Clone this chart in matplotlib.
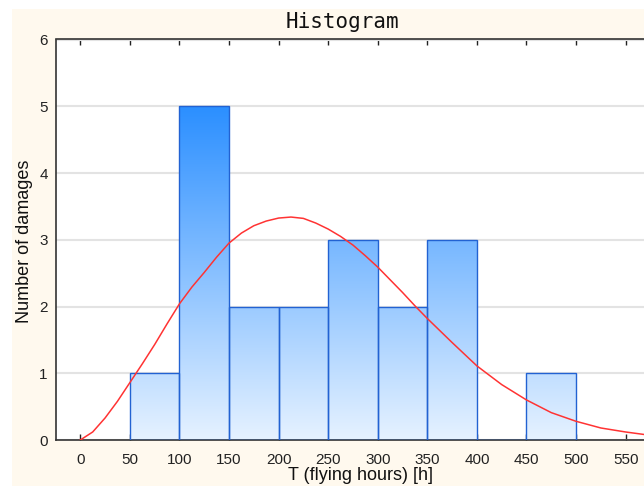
import numpy as np
import matplotlib
matplotlib.use('Agg')
import matplotlib.pyplot as plt
from matplotlib.colors import LinearSegmentedColormap
from matplotlib.patches import Rectangle

# histogram of damages per flying-hour bin
bin_left = [50, 100, 150, 200, 250, 300, 350, 400, 450]
counts = [1, 5, 2, 2, 3, 2, 3, 0, 1]
bin_width = 50

# fitted distribution curve (expected counts per bin)
fit_t = [0, 12.5, 25, 37.5, 50, 62.5, 75, 87.5, 100, 112.5, 125, 137.5, 150,
         162.5, 175, 187.5, 200, 212.5, 225, 237.5, 250, 262.5, 275, 287.5,
         300, 312.5, 325, 337.5, 350, 375, 400, 425, 450, 475, 500, 525, 550, 575]
fit_n = [0, 0.12, 0.33, 0.58, 0.86, 1.14, 1.43, 1.74, 2.04, 2.29, 2.51, 2.74,
         2.95, 3.10, 3.21, 3.28, 3.325, 3.34, 3.32, 3.25, 3.16, 3.05, 2.92,
         2.76, 2.59, 2.40, 2.21, 2.01, 1.82, 1.46, 1.11, 0.83, 0.60, 0.41,
         0.28, 0.18, 0.12, 0.07]

x_ticks = list(range(0, 551, 50))
y_ticks = [0, 1, 2, 3, 4, 5, 6]

W, H = 644, 486
fig = plt.figure(figsize=(W / 100, H / 100), dpi=100, facecolor='white')
fig.patches.append(Rectangle((12 / W, 0), 1 - 12 / W, 1 - 9 / H,
                             transform=fig.transFigure, facecolor='#FFF9EE',
                             edgecolor='none', zorder=-10))

ax_w = (W - 56) / W + 0.01
ax = fig.add_axes([56 / W, (H - 440) / H, ax_w, (440 - 39.5) / H])
ax.set_facecolor('white')

# gradient fill, clipped to each bar
cmap = LinearSegmentedColormap.from_list('bars', ['#E6F2FF', '#2B8FFF'])
grad = np.linspace(0, 1, 256).reshape(-1, 1)
bars = ax.bar(bin_left, counts, width=bin_width, align='edge', facecolor='none',
              edgecolor='#2262D2', linewidth=1.0, zorder=3)
for patch, c in zip(bars, counts):
    if c == 0:
        continue
    x0 = patch.get_x()
    im = ax.imshow(grad, extent=[x0, x0 + bin_width, 0, max(counts)], origin='lower',
                   cmap=cmap, aspect='auto', zorder=2, interpolation='bilinear')
    im.set_clip_path(patch)

ax.plot(fit_t, fit_n, color='#FF3333', linewidth=1.1, zorder=4)

ax.set_xlim(-24.5, 575)
ax.set_ylim(0, 6)
ax.set_xticks(x_ticks)
ax.set_yticks(y_ticks)
ax.yaxis.grid(True, color='#E3E3E3', linewidth=1.5, zorder=1)
ax.set_axisbelow(True)

ax.tick_params(axis='x', direction='in', top=True, length=4, width=1,
               labelsize=11, pad=9, colors='#222222')
ax.tick_params(axis='y', length=0, labelsize=11, pad=6, colors='#222222')
for lbl in ax.get_xticklabels() + ax.get_yticklabels():
    lbl.set_fontfamily('Liberation Sans')

for side in ['left', 'top', 'bottom']:
    ax.spines[side].set_color('#333333')
    ax.spines[side].set_linewidth(1.2)
ax.spines['right'].set_visible(False)

ax.set_xlabel('T (flying hours) [h]', fontsize=13, family='Liberation Sans',
              color='#111111')
ax.xaxis.set_label_coords((360 - 56) / (ax_w * W), -27 / 400.5)
ax.set_ylabel('Number of damages', fontsize=13, family='Liberation Sans',
              color='#111111')
ax.yaxis.set_label_coords(-23 / (ax_w * W), (440 - 241) / 400.5)

fig.text(342 / W, 1 - 22 / H, 'Histogram', ha='center', va='center',
         fontsize=15, family='DejaVu Sans Mono', color='#111111')

fig.savefig('out.png', dpi=100, facecolor=fig.get_facecolor())
